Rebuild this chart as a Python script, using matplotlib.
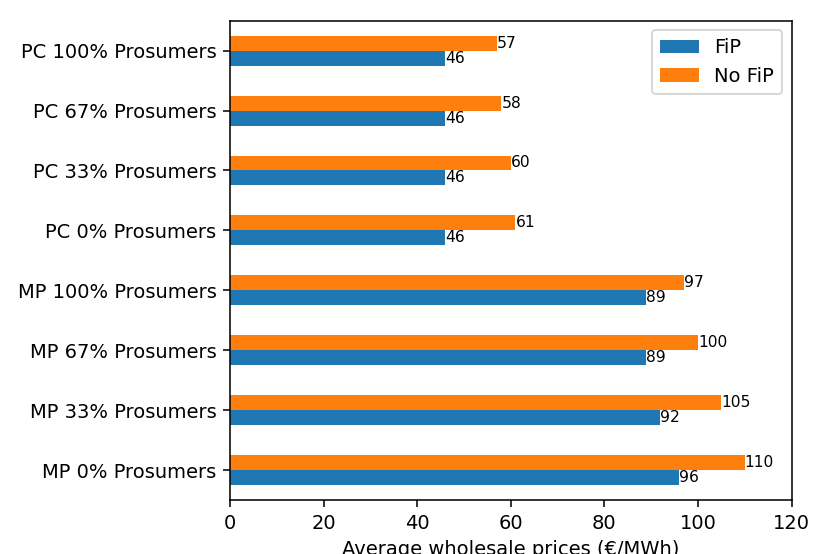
import numpy as np
import matplotlib
matplotlib.use("Agg")
import matplotlib.pyplot as plt

# escenarios (de abajo hacia arriba)
escenarios = ["MP 0% Prosumers", "MP 33% Prosumers", "MP 67% Prosumers", "MP 100% Prosumers",
              "PC 0% Prosumers", "PC 33% Prosumers", "PC 67% Prosumers", "PC 100% Prosumers"]
fip = [96, 92, 89, 89, 46, 46, 46, 46]
no_fip = [110, 105, 100, 97, 61, 60, 58, 57]

dpi = 140
fig = plt.figure(figsize=(830 / dpi, 554 / dpi), dpi=dpi)
ax = fig.add_axes([230 / 830, 54 / 554, 561.5 / 830, 479.3 / 554])

y = np.arange(len(escenarios))
h = 0.25
b1 = ax.barh(y - h / 2, fip, height=h, color="#1f77b4", label="FiP")
b2 = ax.barh(y + h / 2, no_fip, height=h, color="#ff7f0e", label="No FiP")
ax.bar_label(b1, fontsize=8)
ax.bar_label(b2, fontsize=8)

ax.set_yticks(y)
ax.set_yticklabels(escenarios)
ax.set_ylim(-0.5, len(escenarios) - 0.5)
ax.set_xlim(0, 120)
ax.set_xticks(range(0, 121, 20))
ax.set_xlabel("Average wholesale prices (€/MWh)")
ax.legend(loc="upper right")

fig.savefig("out.png", dpi=dpi)
plt.close()
